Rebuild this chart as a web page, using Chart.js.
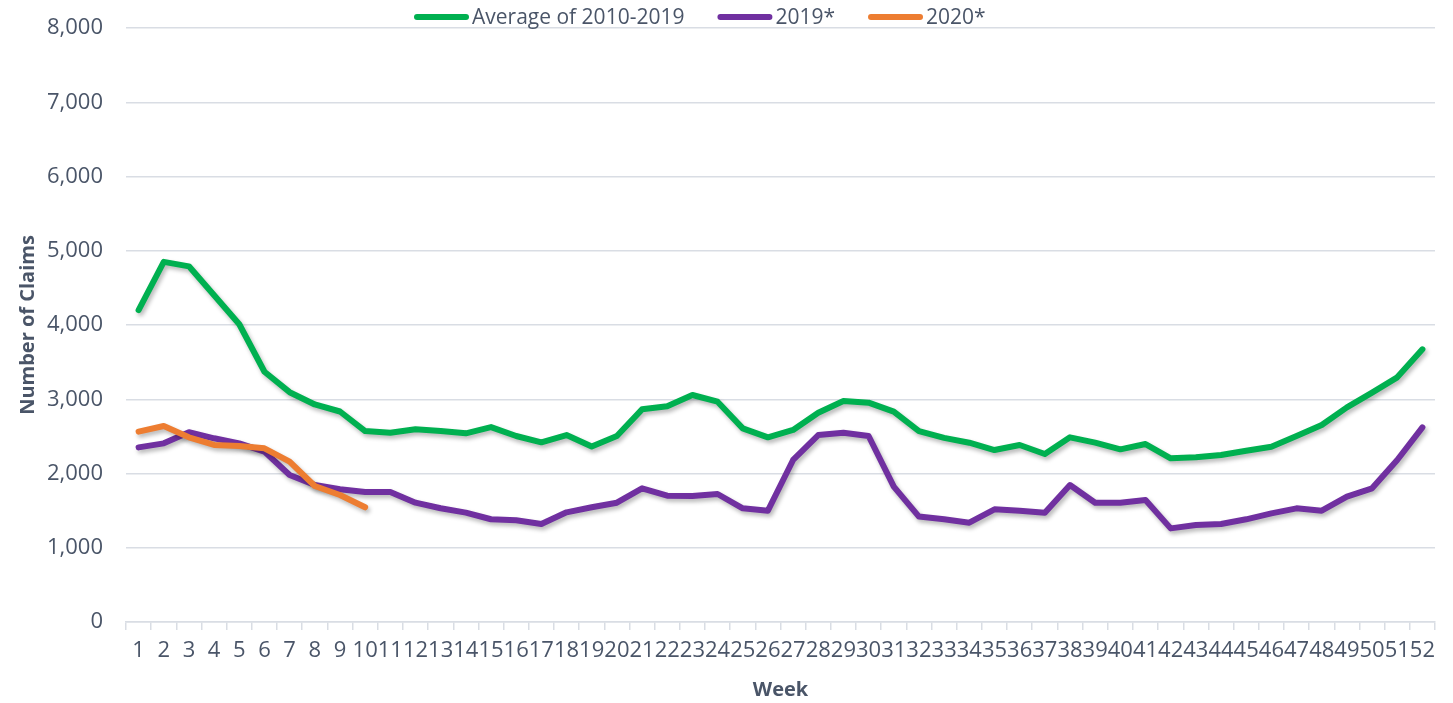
<!DOCTYPE html>
<html>
<head>
<meta charset="utf-8">
<title>Weekly claims</title>
<script src="https://cdn.jsdelivr.net/npm/chart.js@4.4.1/dist/chart.umd.min.js"></script>
<style>
  html, body { margin: 0; padding: 0; background: #fff; }
  #wrap { width: 1453px; height: 703px; position: relative; }
</style>
</head>
<body>
<div id="wrap"><canvas id="chart"></canvas></div>
<script>
// Weekly claim counts.
const weeks = ["1", "2", "3", "4", "5", "6", "7", "8", "9", "10", "11", "12", "13",
  "14", "15", "16", "17", "18", "19", "20", "21", "22", "23", "24", "25", "26",
  "27", "28", "29", "30", "31", "32", "33", "34", "35", "36", "37", "38", "39",
  "40", "41", "42", "43", "44", "45", "46", "47", "48", "49", "50", "51", "52"];

const avg2010to2019 = [4200, 4850, 4790, 4400, 4010, 3370, 3095, 2930, 2835, 2572,
  2548, 2595, 2572, 2541, 2625, 2505, 2420, 2518, 2365, 2505,
  2864, 2905, 3057, 2967, 2608, 2487, 2586, 2819, 2976, 2954,
  2833, 2570, 2480, 2415, 2316, 2384, 2263, 2487, 2415, 2325,
  2397, 2204, 2218, 2249, 2307, 2361, 2505, 2653, 2891, 3089,
  3295, 3672];

const claims2019 = [2352, 2406, 2555, 2474, 2406, 2294, 1980, 1845, 1787, 1751,
  1751, 1607, 1532, 1473, 1384, 1370, 1320, 1477, 1545, 1607,
  1800, 1701, 1697, 1724, 1531, 1499, 2182, 2518, 2550, 2505,
  1823, 1420, 1383, 1338, 1517, 1499, 1472, 1845, 1607, 1607,
  1643, 1261, 1306, 1320, 1383, 1463, 1531, 1499, 1688, 1800,
  2182, 2622];

const claims2020 = [2563, 2640, 2487, 2384, 2370, 2339, 2159, 1832, 1710, 1545];

const seriesNames = ["Average of 2010-2019", "2019*", "2020*"];
const seriesColors = ["#00b050", "#7030a0", "#ed7d31"];

const yMin = 0, yMax = 8000, yStep = 1000;

const TEXT = "#4a5568";
const GRID = "#d9dde4";
const FONT = "'Open Sans', sans-serif";

// soft drop shadow under each line, like the office-style original
const lineShadow = {
  id: "lineShadow",
  beforeDatasetDraw(chart) {
    const ctx = chart.ctx;
    ctx.save();
    ctx.shadowColor = "rgba(0,0,0,0.28)";
    ctx.shadowBlur = 4;
    ctx.shadowOffsetX = 2;
    ctx.shadowOffsetY = 3;
  },
  afterDatasetDraw(chart) {
    chart.ctx.restore();
  },
};

// legend drawn by hand: long line swatch, text right against it
const lineLegend = {
  id: "lineLegend",
  afterDraw(chart) {
    const ctx = chart.ctx;
    const swatch = 55, gapText = 3, gapItem = 33;
    ctx.save();
    ctx.font = "21px " + FONT;
    ctx.textBaseline = "middle";
    let x = 414;
    const y = 17;
    chart.data.datasets.forEach(function (ds) {
      ctx.strokeStyle = ds.borderColor;
      ctx.lineWidth = 6;
      ctx.lineCap = "round";
      ctx.beginPath();
      ctx.moveTo(x + 3, y);
      ctx.lineTo(x + swatch - 3, y);
      ctx.stroke();
      x += swatch + gapText;
      ctx.fillStyle = TEXT;
      ctx.fillText(ds.label, x, y + 1);
      x += ctx.measureText(ds.label).width + gapItem;
    });
    ctx.restore();
  },
};

const series = [avg2010to2019, claims2019, claims2020];

new Chart(document.getElementById("chart"), {
  type: "line",
  data: {
    labels: weeks,
    datasets: series.map(function (vals, i) {
      return {
        label: seriesNames[i],
        data: vals,
        borderColor: seriesColors[i],
        backgroundColor: seriesColors[i],
        borderWidth: 6,
        borderCapStyle: "round",
        borderJoinStyle: "round",
        pointRadius: 0,
        tension: 0,
        fill: false,
        order: 2 - i,
      };
    }),
  },
  options: {
    responsive: true,
    maintainAspectRatio: false,
    animation: false,
    layout: { padding: { top: 28, right: 18, bottom: 0, left: 0 } },
    plugins: {
      legend: { display: false },
      tooltip: { enabled: false },
    },
    scales: {
      x: {
        offset: true,
        grid: {
          offset: true,
          drawOnChartArea: false,
          drawTicks: true,
          tickLength: 8,
          color: GRID,
          lineWidth: 1.5,
        },
        border: { color: GRID, width: 1.5 },
        ticks: {
          autoSkip: false,
          maxRotation: 0,
          minRotation: 0,
          padding: 8,
          color: TEXT,
          font: { family: FONT, size: 22 },
        },
        title: {
          display: true,
          text: "Week",
          color: TEXT,
          font: { family: FONT, size: 20, weight: "bold" },
          padding: { top: 0, bottom: 1 },
        },
        afterFit(scale) { scale.height = 81; },
      },
      y: {
        min: yMin,
        max: yMax,
        grid: { color: GRID, lineWidth: 1.5, drawTicks: false },
        border: { display: false },
        ticks: {
          stepSize: yStep,
          padding: 23,
          color: TEXT,
          font: { family: FONT, size: 22 },
          callback: (v) => v.toLocaleString("en-US"),
        },
        title: {
          display: true,
          text: "Number of Claims",
          color: TEXT,
          font: { family: FONT, size: 20, weight: "bold" },
          padding: { top: 16, bottom: 0 },
        },
        afterFit(scale) {
          scale.width = 126;
          scale.paddingTop = 0;
          scale.paddingBottom = 0;
        },
      },
    },
  },
  plugins: [lineShadow, lineLegend],
});
</script>
</body>
</html>
